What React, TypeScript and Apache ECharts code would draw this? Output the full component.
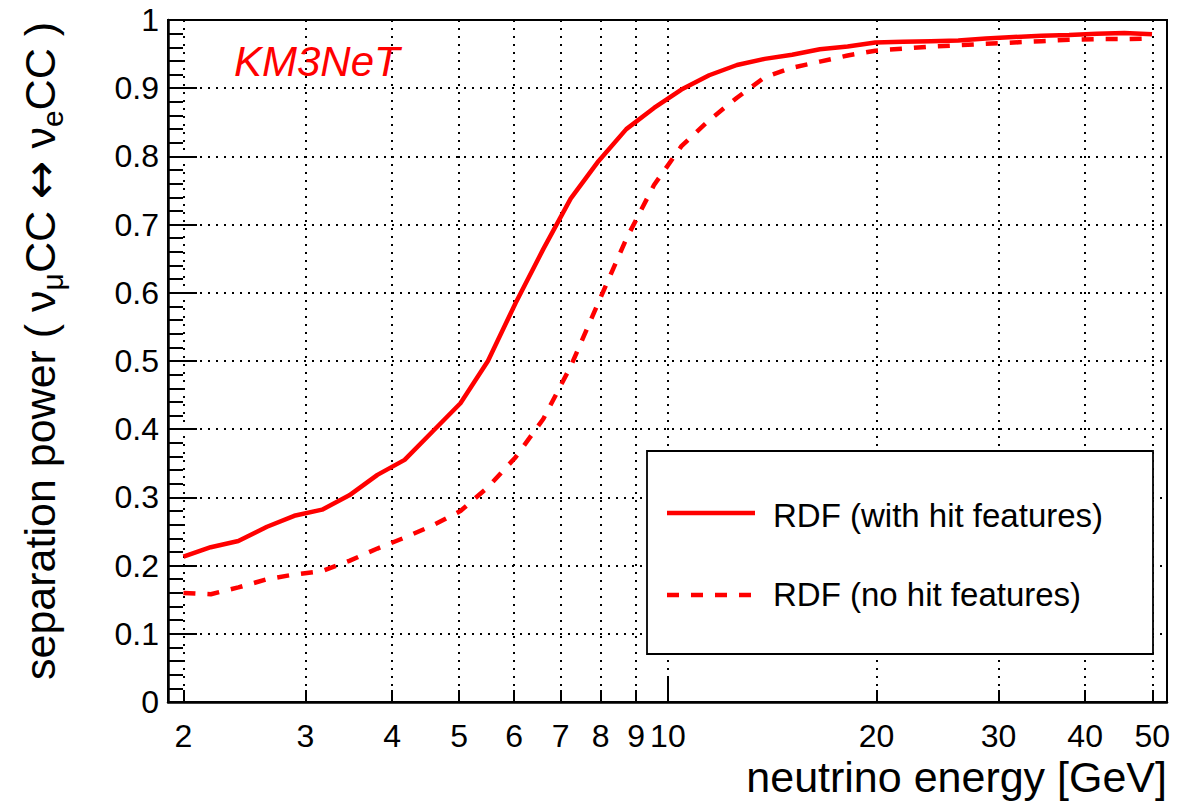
import React, { useEffect, useRef } from "react";
import * as echarts from "echarts";

// ---- data ----
const ENERGY = [
  2.0, 2.19, 2.4, 2.64, 2.89, 3.17, 3.47, 3.81, 4.17, 4.58, 5.02, 5.5, 6.03, 6.61, 7.24, 7.94, 8.71, 9.55,
  10.46, 11.47, 12.58, 13.79, 15.11, 16.57, 18.17, 19.92, 21.83, 23.94, 26.24, 28.77, 31.54, 34.58, 37.91,
  41.56, 45.56, 49.95,
];
const SEP_WITH_HITS = [
  0.213, 0.227, 0.236, 0.257, 0.273, 0.282, 0.303, 0.333, 0.355, 0.397, 0.438, 0.5, 0.585, 0.664, 0.738,
  0.793, 0.84, 0.871, 0.898, 0.919, 0.934, 0.943, 0.949, 0.957, 0.961, 0.967, 0.968, 0.969, 0.97, 0.973,
  0.975, 0.977, 0.978, 0.98, 0.981, 0.979,
];
const SEP_NO_HITS = [
  0.16, 0.158, 0.168, 0.18, 0.187, 0.192, 0.207, 0.225, 0.241, 0.259, 0.28, 0.315, 0.359, 0.415, 0.492,
  0.586, 0.679, 0.758, 0.815, 0.853, 0.886, 0.916, 0.93, 0.939, 0.948, 0.955, 0.958, 0.961, 0.963, 0.965,
  0.967, 0.969, 0.971, 0.972, 0.972, 0.973,
];
const X_TICKS = [2, 3, 4, 5, 6, 7, 8, 9, 10, 20, 30, 40, 50];
const X_LONG_TICKS = [10];
const X_MIN = 1.9;
const X_MAX = 52.5;
const Y_MIN = 0;
const Y_MAX = 1;
const Y_STEP = 0.1;

const SERIES_NAMES = ["RDF (with hit features)", "RDF (no hit features)"];
const RED = "#ff0000";
const FONT = '"Liberation Sans", Arial, Helvetica, sans-serif';

export default function App() {
  const ref = useRef<HTMLDivElement>(null);

  useEffect(() => {
    if (!ref.current) return;
    const chart = echarts.init(ref.current, null, { renderer: "svg" });
    const lg = (v: number) => Math.log10(v);
    const tickLine = { color: "#000", width: 2 };
    const dotted = { color: "#000", width: 2, type: [2, 6] as any };

    const option: any = {
      animation: false,
      backgroundColor: "#fff",
      grid: {
        left: 168,
        right: 25,
        top: 20,
        bottom: 103,
        show: true,
        borderColor: "#000",
        borderWidth: 2,
        backgroundColor: "transparent",
        containLabel: false,
        outerBoundsMode: "none",
      },
      xAxis: [
        {
          type: "value",
          min: lg(X_MIN),
          max: lg(X_MAX),
          axisLine: { show: true, onZero: false, lineStyle: { color: "#000", width: 2.5 } },
          axisTick: { show: true, inside: true, length: 12, customValues: X_TICKS.map(lg), lineStyle: tickLine },
          axisLabel: {
            customValues: X_TICKS.map(lg),
            formatter: (v: number) => String(Math.round(Math.pow(10, v))),
            margin: 18,
            fontSize: 32,
            fontFamily: FONT,
            color: "#000",
          },
          splitLine: { show: true, lineStyle: dotted },
        },
        {
          type: "value",
          position: "bottom",
          min: lg(X_MIN),
          max: lg(X_MAX),
          axisLine: { show: false, onZero: false },
          axisTick: { show: true, inside: true, length: 24, customValues: X_LONG_TICKS.map(lg), lineStyle: tickLine },
          axisLabel: { show: false },
          splitLine: { show: false },
        },
      ],
      yAxis: {
        type: "value",
        min: Y_MIN,
        max: Y_MAX,
        interval: Y_STEP,
        axisLine: { show: true, onZero: false, lineStyle: { color: "#000", width: 2.5 } },
        axisTick: { show: true, inside: true, length: 29, lineStyle: tickLine },
        minorTick: { show: true, splitNumber: 5, length: 15, lineStyle: tickLine },
        axisLabel: {
          formatter: (v: number) =>
            Math.abs(v) < 1e-9 ? "0" : Math.abs(v - 1) < 1e-9 ? "1" : v.toFixed(1),
          margin: 9,
          fontSize: 32,
          fontFamily: FONT,
          color: "#000",
        },
        splitLine: { show: true, lineStyle: dotted },
        minorSplitLine: { show: false },
      },
      series: [
        {
          name: SERIES_NAMES[0],
          type: "line",
          xAxisIndex: 0,
          symbol: "none",
          data: ENERGY.map((e, i) => [lg(e), SEP_WITH_HITS[i]]),
          lineStyle: { color: RED, width: 4.5 },
          itemStyle: { color: RED },
          z: 5,
        },
        {
          name: SERIES_NAMES[1],
          type: "line",
          xAxisIndex: 0,
          symbol: "none",
          data: ENERGY.map((e, i) => [lg(e), SEP_NO_HITS[i]]),
          lineStyle: { color: RED, width: 4.5, type: [12, 12] },
          itemStyle: { color: RED },
          z: 5,
        },
      ],
      graphic: [
        {
          type: "text",
          x: 234,
          y: 61,
          z: 100,
          style: {
            text: "KM3NeT",
            fill: RED,
            fontSize: 42,
            fontStyle: "italic",
            fontFamily: FONT,
            align: "left",
            verticalAlign: "middle",
          },
        },
        {
          type: "rect",
          z: 100,
          shape: { x: 647, y: 451, width: 506, height: 203 },
          style: { fill: "#fff", stroke: "#000", lineWidth: 1.8 },
        },
        {
          type: "line",
          z: 101,
          shape: { x1: 667, y1: 513, x2: 755, y2: 513 },
          style: { stroke: RED, lineWidth: 4.5 },
        },
        {
          type: "text",
          z: 101,
          x: 773,
          y: 515,
          style: {
            text: SERIES_NAMES[0],
            fill: "#000",
            fontSize: 33,
            fontFamily: FONT,
            align: "left",
            verticalAlign: "middle",
          },
        },
        {
          type: "line",
          z: 101,
          shape: { x1: 667, y1: 595, x2: 751, y2: 595 },
          style: { stroke: RED, lineWidth: 4.5, lineDash: [12, 12] },
        },
        {
          type: "text",
          z: 101,
          x: 773,
          y: 594,
          style: {
            text: SERIES_NAMES[1],
            fill: "#000",
            fontSize: 33,
            fontFamily: FONT,
            align: "left",
            verticalAlign: "middle",
          },
        },
        {
          type: "text",
          z: 100,
          x: 1167,
          y: 777,
          style: {
            text: "neutrino energy [GeV]",
            fill: "#000",
            fontSize: 43,
            fontFamily: FONT,
            align: "right",
            verticalAlign: "middle",
          },
        },
        {
          type: "text",
          z: 100,
          x: 40,
          y: 22,
          rotation: Math.PI / 2,
          style: {
            text: "separation power ( ν{mu|μ}CC {arr|↔} ν{e|e}CC )",
            fill: "#000",
            fontSize: 43,
            fontFamily: FONT,
            lineHeight: 54,
            align: "right",
            verticalAlign: "middle",
            rich: {
              mu: { fontSize: 30, fontFamily: FONT, lineHeight: 30, verticalAlign: "bottom", fill: "#000" },
              e: { fontSize: 30, fontFamily: FONT, lineHeight: 30, verticalAlign: "bottom", fill: "#000" },
              arr: { fontSize: 46, fontFamily: '"DejaVu Sans", sans-serif', lineHeight: 54, fill: "#000" },
            },
          },
        },
      ],
    };

    chart.setOption(option);
    return () => chart.dispose();
  }, []);

  return <div ref={ref} style={{ position: "fixed", left: 0, top: 0, width: 1192, height: 805 }} />;
}
